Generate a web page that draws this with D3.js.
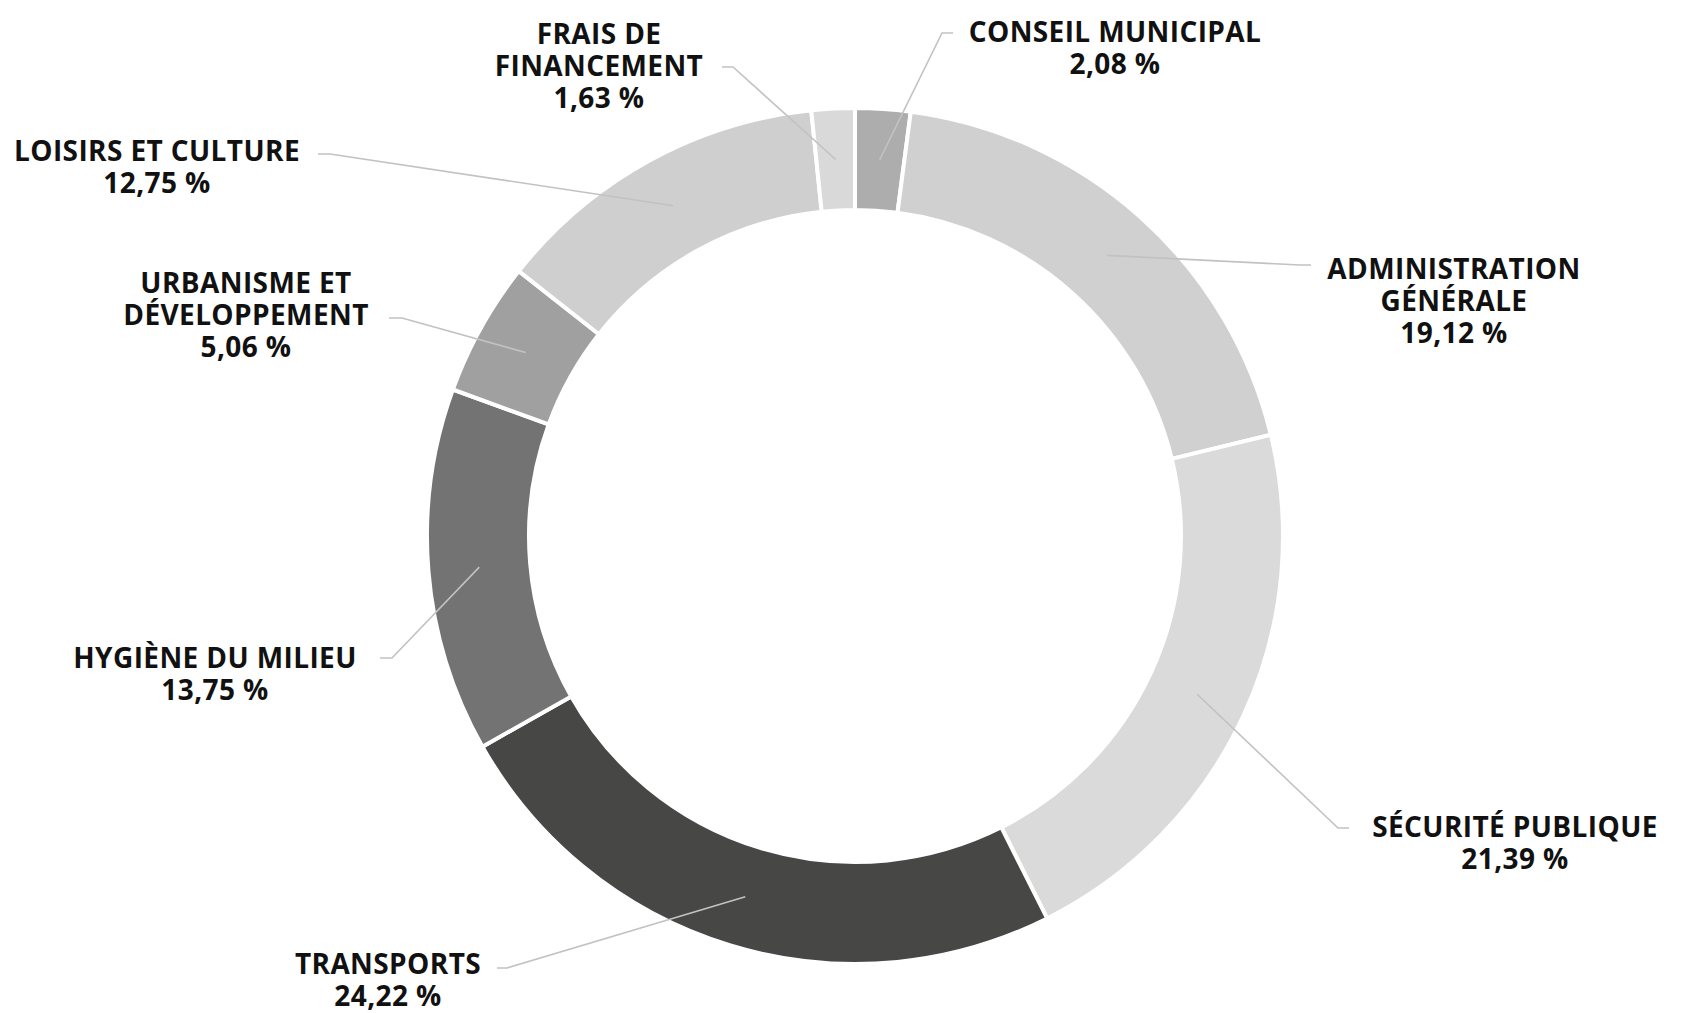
<!DOCTYPE html>
<html>
<head>
<meta charset="utf-8">
<script src="https://cdn.jsdelivr.net/npm/d3@7"></script>
<style>
  body { margin: 0; background: #fff; }
  text { font-family: "Open Sans", "Noto Sans", sans-serif; font-weight: 700; fill: #111; }
</style>
</head>
<body>
<div id="chart"></div>
<script>
// data
const categories = ["CONSEIL MUNICIPAL", "ADMINISTRATION GÉNÉRALE", "SÉCURITÉ PUBLIQUE", "TRANSPORTS",
    "HYGIÈNE DU MILIEU", "URBANISME ET DÉVELOPPEMENT", "LOISIRS ET CULTURE", "FRAIS DE FINANCEMENT"];
const labelLines = [["CONSEIL MUNICIPAL"], ["ADMINISTRATION", "GÉNÉRALE"], ["SÉCURITÉ PUBLIQUE"], ["TRANSPORTS"],
    ["HYGIÈNE DU MILIEU"], ["URBANISME ET", "DÉVELOPPEMENT"], ["LOISIRS ET CULTURE"], ["FRAIS DE", "FINANCEMENT"]];
const shares = [2.08, 19.12, 21.39, 24.22, 13.75, 5.06, 12.75, 1.63];
const colours = ["#adadad", "#d0d0d0", "#dadada", "#474746", "#737373", "#a0a0a0", "#cfcfcf", "#d9d9d9"];

// layout of the callouts: label center x, first baseline y, elbow and end of the leader
const callouts = [
    {x: 1115, y: 42,  elbow: [942, 33],  end: [953, 33]},
    {x: 1454, y: 279, elbow: [1300, 265], end: [1311, 265]},
    {x: 1515, y: 837, elbow: [1338, 828], end: [1349, 828]},
    {x: 388,  y: 974, elbow: [507, 968],  end: [497, 968]},
    {x: 215,  y: 668, elbow: [392, 658],  end: [380, 658]},
    {x: 246,  y: 293, elbow: [402, 318],  end: [389, 318]},
    {x: 157,  y: 161, elbow: [330, 154],  end: [318, 154]},
    {x: 599,  y: 44,  elbow: [733, 67],   end: [722, 67]}
];

let width = 1689, height = 1013;
let cx = 855, cy = 536;
let outerR = 428, innerR = 326;

let svg = d3.select("#chart")
    .append("svg")
    .attr("width", width)
    .attr("height", height);

let fr = d3.formatLocale({decimal: ",", thousands: " ", grouping: [3], currency: ["", " €"]});
let fmt = fr.format(".2f");

let pie = d3.pie().sort(null).value(d => d);
let arcs = pie(shares);

let arc = d3.arc().innerRadius(innerR).outerRadius(outerR);

let g = svg.append("g")
    .attr("transform", "translate(" + cx + "," + cy + ")");

g.selectAll("path")
    .data(arcs)
    .join("path")
    .attr("d", arc)
    .attr("fill", (d, i) => colours[i])
    .attr("stroke", "#fff")
    .attr("stroke-width", 4)
    .attr("stroke-linejoin", "miter");

// leader lines, from the arc centroid out to the label
svg.append("g")
    .selectAll("polyline")
    .data(arcs)
    .join("polyline")
    .attr("fill", "none")
    .attr("stroke", "#c2c2c2")
    .attr("stroke-width", 1.6)
    .attr("points", (d, i) => {
        let c = arc.centroid(d);
        let p0 = [cx + c[0], cy + c[1]];
        return [p0, callouts[i].elbow, callouts[i].end].map(p => p.join(",")).join(" ");
    });

// labels
let labels = svg.append("g")
    .selectAll("text")
    .data(arcs)
    .join("text")
    .attr("text-anchor", "middle")
    .attr("font-size", 28)
    .attr("letter-spacing", 0.4)
    .attr("x", (d, i) => callouts[i].x)
    .attr("y", (d, i) => callouts[i].y);

labels.each(function(d, i) {
    let t = d3.select(this);
    let lines = labelLines[i].concat([fmt(shares[i]) + " %"]);
    lines.forEach((l, j) => {
        t.append("tspan")
            .attr("x", callouts[i].x)
            .attr("dy", j === 0 ? 0 : 32)
            .text(l);
    });
});
</script>
</body>
</html>
